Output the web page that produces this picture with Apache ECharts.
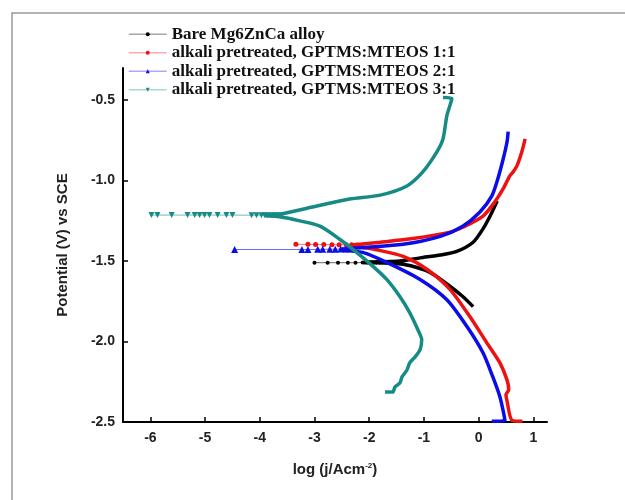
<!DOCTYPE html>
<html>
<head>
<meta charset="utf-8">
<script src="https://cdn.jsdelivr.net/npm/echarts@6/dist/echarts.min.js"></script>
<style>
  html, body { margin: 0; padding: 0; background: #fff; }
  #chart { width: 625px; height: 500px; }
</style>
</head>
<body>
<div id="chart"></div>
<script>
// tick labels
const xTicks = [-6, -5, -4, -3, -2, -1, 0, 1];
const yTicks = [-2.5, -2.0, -1.5, -1.0, -0.5];

const names = [
  'Bare Mg6ZnCa alloy',
  'alkali pretreated, GPTMS:MTEOS 1:1',
  'alkali pretreated, GPTMS:MTEOS 2:1',
  'alkali pretreated, GPTMS:MTEOS 3:1',
];

// sparse points near Ecorr (drawn with markers)
const bareEcorr = [[-3.00, -1.51], [-2.76, -1.51], [-2.57, -1.51], [-2.39, -1.51], [-2.25, -1.51], [-2.12, -1.509],
  [-2.02, -1.509], [-1.94, -1.508], [-1.87, -1.508], [-1.81, -1.508], [-1.75, -1.507], [-1.69, -1.507], [-1.63, -1.506], [-1.57, -1.506]];
const ratio11Ecorr = [[-3.34, -1.396], [-3.12, -1.396], [-2.98, -1.397], [-2.83, -1.397], [-2.68, -1.398], [-2.55, -1.398],
  [-2.42, -1.399], [-2.32, -1.399], [-2.22, -1.40]];
const ratio21Ecorr = [[-4.46, -1.428], [-3.23, -1.428], [-3.12, -1.428], [-2.94, -1.427], [-2.85, -1.427], [-2.72, -1.426],
  [-2.62, -1.426], [-2.52, -1.425], [-2.42, -1.425]];
const ratio31Ecorr = [[-5.98, -1.214], [-5.87, -1.214], [-5.61, -1.214], [-5.32, -1.214], [-5.19, -1.214], [-5.10, -1.214],
  [-5.01, -1.214], [-4.92, -1.214], [-4.77, -1.214], [-4.61, -1.214], [-4.50, -1.214], [-4.15, -1.215], [-4.06, -1.215],
  [-3.97, -1.215], [-3.91, -1.215], [-3.86, -1.215], [-3.78, -1.215], [-3.73, -1.215], [-3.67, -1.215]];

// polarisation branches: cathodic (bottom -> Ecorr), break, anodic (Ecorr -> top)
const bareCurve = [[-0.10, -1.783], [-0.29, -1.72], [-0.52, -1.658], [-0.89, -1.57], [-1.38, -1.52], [-1.86, -1.51], [-2.1, -1.51],
  null,
  [-2.1, -1.506], [-1.44, -1.50], [-1.07, -1.48], [-0.70, -1.462], [-0.40, -1.44], [-0.10, -1.383], [0.08, -1.30], [0.21, -1.22], [0.34, -1.127]];
const ratio11Curve = [[0.80, -2.496], [0.61, -2.49], [0.52, -2.37], [0.50, -2.33], [0.55, -2.30], [0.52, -2.24], [0.39, -2.133],
  [0.15, -2.008], [-0.16, -1.845], [-0.52, -1.677], [-0.94, -1.552], [-1.38, -1.471], [-1.86, -1.43], [-2.12, -1.415], [-2.3, -1.405],
  null,
  [-2.3, -1.40], [-1.80, -1.383], [-1.20, -1.36], [-0.52, -1.32], [-0.29, -1.29], [0.08, -1.22], [0.30, -1.13], [0.45, -1.05],
  [0.57, -0.97], [0.63, -0.946], [0.70, -0.908], [0.79, -0.82], [0.85, -0.74]];
const ratio21Curve = [[0.24, -2.496], [0.48, -2.49], [0.39, -2.345], [0.26, -2.22], [0.08, -2.07], [-0.21, -1.908], [-0.58, -1.74],
  [-1.07, -1.614], [-1.68, -1.508], [-2.12, -1.446], [-2.5, -1.432],
  null,
  [-2.5, -1.425], [-2.1, -1.415], [-1.38, -1.396], [-0.70, -1.346], [-0.29, -1.283], [0.02, -1.196], [0.24, -1.096], [0.35, -0.99],
  [0.45, -0.864], [0.52, -0.758], [0.54, -0.696]];
const ratio31Curve = [[-1.71, -2.314], [-1.57, -2.314], [-1.53, -2.283], [-1.44, -2.258], [-1.40, -2.22], [-1.31, -2.177], [-1.26, -2.133],
  [-1.16, -2.095], [-1.07, -2.05], [-1.04, -1.989], [-1.11, -1.927], [-1.26, -1.82], [-1.44, -1.72], [-1.68, -1.614], [-1.93, -1.533],
  [-2.23, -1.446], [-2.54, -1.364], [-2.90, -1.283], [-3.27, -1.25], [-3.64, -1.225], [-3.9, -1.218],
  null,
  [-3.9, -1.212], [-3.64, -1.208], [-2.96, -1.158], [-2.36, -1.114], [-1.80, -1.09], [-1.31, -1.033], [-1.02, -0.946], [-0.76, -0.82],
  [-0.65, -0.74], [-0.58, -0.596], [-0.49, -0.49], [-0.65, -0.483]];

const colors = ['#000000', '#ee1111', '#0c0ce8', '#168a84'];
const symbols = ['circle', 'circle', 'triangle', 'triangle'];
const symbolSizes = [4, 5, 7, 6];
const rotations = [0, 0, 0, 180];
const ecorrData = [bareEcorr, ratio11Ecorr, ratio21Ecorr, ratio31Ecorr];
const curveData = [bareCurve, ratio11Curve, ratio21Curve, ratio31Curve];

const chart = echarts.init(document.getElementById('chart'));

const series = [];
names.forEach((name, i) => {
  series.push({
    name: name,
    type: 'line',
    data: ecorrData[i],
    symbol: symbols[i],
    symbolSize: symbolSizes[i],
    symbolRotate: rotations[i],
    lineStyle: { width: 1, color: colors[i], opacity: 0.6 },
    itemStyle: { color: colors[i] },
    animation: false,
    z: 2 + i,
  });
  series.push({
    name: name,
    type: 'line',
    data: curveData[i],
    showSymbol: false,
    connectNulls: false,
    smooth: 0.25,
    lineStyle: { width: 3.5, color: colors[i] },
    itemStyle: { color: colors[i] },
    animation: false,
    z: 2 + i,
  });
});

const axisFont = { fontFamily: 'Liberation Sans', fontWeight: 'bold', fontSize: 14, color: '#222' };

const option = {
  backgroundColor: '#fff',
  graphic: [{
    type: 'rect',
    shape: { x: 12, y: 13, width: 700, height: 600 },
    style: { fill: 'none', stroke: '#9a9a9a', lineWidth: 1.5 },
    silent: true,
  }],
  legend: {
    data: names,
    orient: 'vertical',
    left: 123,
    top: 20,
    itemWidth: 38,
    itemHeight: 5,
    itemGap: 0,
    lineStyle: { width: 1.5, opacity: 0.35 },
    textStyle: { fontFamily: 'Liberation Serif', fontWeight: 'bold', fontSize: 17, color: '#111', lineHeight: 18.5 },
  },
  grid: { left: 123, right: 78, top: 68, bottom: 78 },
  xAxis: {
    type: 'value',
    min: -6.5,
    max: 1.25,
    name: 'log (j/Acm{sup|-2})',
    nameLocation: 'middle',
    nameGap: 40,
    nameTextStyle: {
      fontFamily: 'Liberation Sans', fontWeight: 'bold', fontSize: 15, color: '#222',
      rich: { sup: { fontFamily: 'Liberation Sans', fontWeight: 'bold', fontSize: 8, color: '#222', verticalAlign: 'top', padding: [0, 0, 8, 0] } },
    },
    axisLine: { onZero: false, lineStyle: { color: '#000', width: 2 } },
    axisTick: { inside: true, length: 5, lineStyle: { width: 1.5, color: '#000' }, customValues: xTicks },
    axisLabel: Object.assign({ margin: 9, customValues: xTicks, formatter: v => String(v) }, axisFont),
    splitLine: { show: false },
  },
  yAxis: {
    type: 'value',
    min: -2.5,
    max: -0.3,
    name: 'Potential (V) vs SCE',
    nameLocation: 'middle',
    nameGap: 53,
    nameTextStyle: { fontFamily: 'Liberation Sans', fontWeight: 'bold', fontSize: 15, color: '#222' },
    axisLine: { show: true, onZero: false, lineStyle: { color: '#000', width: 2 } },
    axisTick: { show: true, inside: true, length: 5, lineStyle: { width: 1.5, color: '#000' }, customValues: yTicks },
    axisLabel: Object.assign({ margin: 8, customValues: yTicks, formatter: v => v.toFixed(1) }, axisFont),
    splitLine: { show: false },
  },
  series: series,
};

chart.setOption(option);
</script>
</body>
</html>
